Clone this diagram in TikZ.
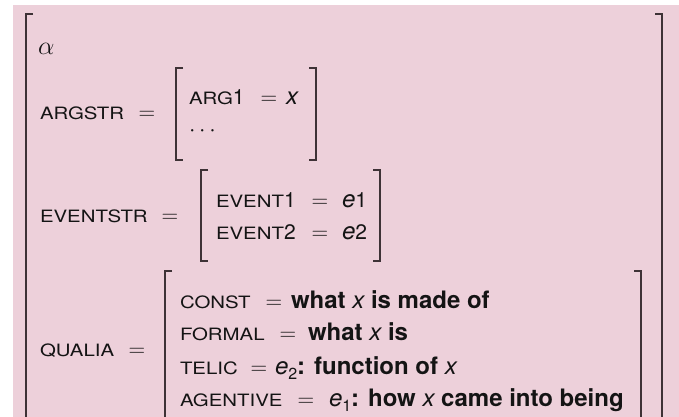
\RequirePackage{fix-cm}
\documentclass[tikz,border=0pt]{standalone}
\usepackage{fontspec}
\setmainfont{TeX Gyre Heros}

\definecolor{avmbg}{RGB}{237,208,218}
\definecolor{brk}{RGB}{62,50,54}
\definecolor{ink}{RGB}{20,20,20}

\newcommand\avmval[1]{{\fontsize{24}{24}\selectfont\bfseries #1}}
\newcommand\avmvar[1]{{\fontsize{24}{24}\selectfont\mdseries\itshape #1}}
\newcommand\avmdig[1]{{\fontsize{21}{21}\selectfont #1}}
\newcommand\avmsub[1]{\raisebox{-5pt}{\fontsize{16}{16}\selectfont\mdseries #1}}

\tikzset{
  row/.style={anchor=base west, inner sep=0pt, outer sep=0pt, text=ink},
  % attribute names: small capitals, drawn wide
  avmattr/.style={row, font=\fontsize{17}{17}\selectfont, xscale=1.2, transform shape},
  avmeqn/.style={row, font=\fontsize{23}{23}\selectfont, execute at begin node=$, execute at end node=$},
  avmrest/.style={row},
  bracket/.style={draw=brk, line width=1.6pt, line cap=butt, line join=miter},
}

\begin{document}
\begin{tikzpicture}[x=1pt,y=1pt]
  \useasboundingbox (0,0) rectangle (679,-417);
  \clip (0,0) rectangle (679,-417);
  \fill[avmbg] (13,-5) rectangle (679,-417);

  % outer structure
  \draw[bracket] (33,-14) -- (26,-14) -- (26,-430);
  \draw[bracket] (655,-14) -- (662,-14) -- (662,-430);

  \node[row] (alpha) at (38,-55) {\fontsize{26}{26}\selectfont$\alpha$};

  % argument structure
  \node[avmattr] (argstr) at (40,-120) {ARGSTR};
  \node[avmeqn] (argstreq) at (138.7,-120) {=};
  \draw[bracket] (183,-68) -- (176,-68) -- (176,-160) -- (183,-160);
  \draw[bracket] (309,-68) -- (316,-68) -- (316,-160) -- (309,-160);
  \node[avmattr] (arg1) at (189,-105) {ARG};
  \node[avmrest] (arg1n) at (arg1.base east) {\avmdig{1}};
  \node[avmeqn] (arg1eq) at (260.7,-105) {=};
  \node[avmrest] (arg1v) at (286,-105) {\avmvar{x}};
  \node[row] (dots) at (189,-136) {\fontsize{23}{23}\selectfont$\cdots$};

  % event structure
  \node[avmattr] (eventstr) at (40,-222) {EVENTSTR};
  \node[avmeqn] (eventstreq) at (161.7,-222) {=};
  \draw[bracket] (208,-170) -- (201,-170) -- (201,-261) -- (208,-261);
  \draw[bracket] (373,-170) -- (380,-170) -- (380,-261) -- (373,-261);
  \node[avmattr] (event1) at (216,-207) {EVENT};
  \node[avmrest] (event1n) at (event1.base east) {\avmdig{1}};
  \node[avmeqn] (event1eq) at (311.7,-207) {=};
  \node[avmrest] (event1v) at (342,-207) {\avmvar{e}\avmdig{1}};
  \node[avmattr] (event2) at (216,-239) {EVENT};
  \node[avmrest] (event2n) at (event2.base east) {\avmdig{2}};
  \node[avmeqn] (event2eq) at (311.7,-239) {=};
  \node[avmrest] (event2v) at (342,-239) {\avmvar{e}\avmdig{2}};

  % qualia structure
  \node[avmattr] (qualia) at (40,-356) {QUALIA};
  \node[avmeqn] (qualiaeq) at (128.7,-356) {=};
  \draw[bracket] (172,-271) -- (165,-271) -- (165,-430);
  \draw[bracket] (634,-271) -- (641,-271) -- (641,-430);

  \node[avmattr] (const) at (180,-308) {CONST};
  \node[avmeqn] (consteq) at (265.7,-308) {=};
  \node[avmrest] (constv) at (291,-308) {\avmval{what \avmvar{x} is made of}};

  \node[avmattr] (formal) at (180,-340) {FORMAL};
  \node[avmeqn] (formaleq) at (279.7,-340) {=};
  \node[avmrest] (formalv) at (308,-340) {\avmval{what \avmvar{x} is}};

  \node[avmattr] (telic) at (180,-374) {TELIC};
  \node[avmeqn] (teliceq) at (250.7,-374) {=};
  \node[avmrest] (telicv) at (275,-374)
    {\avmvar{e}\avmsub{2}\avmval{: function of \avmvar{x}}};

  \node[avmattr] (agentive) at (180,-406) {AGENTIVE};
  \node[avmeqn] (agentiveeq) at (297.7,-406) {=};
  \node[avmrest] (agentivev) at (329,-406)
    {\avmvar{e}\avmsub{1}\avmval{: how \avmvar{x} came into being}};
\end{tikzpicture}
\end{document}
